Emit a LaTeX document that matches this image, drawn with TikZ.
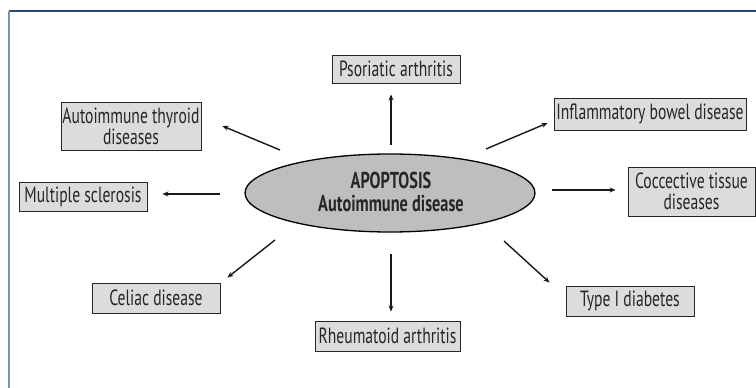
\documentclass[tikz,border=0pt]{standalone}
\usepackage{fontspec}
\setmainfont{PT Sans}[FakeStretch=0.71]
\usetikzlibrary{arrows.meta,calc,shapes.geometric}
\definecolor{boxfill}{RGB}{220,220,220}
\definecolor{ellfill}{RGB}{190,190,190}
\definecolor{frametop}{RGB}{40,70,120}
\definecolor{frameleft}{RGB}{125,145,180}
\tikzset{
  dbox/.style={draw=black!85, line width=0.9pt, fill=boxfill, inner sep=0pt,
    font=\fontsize{22}{21}\selectfont, align=center, text=black!85},
  arr/.style={line width=1.4pt, black!90, -{Stealth[length=6pt,width=5pt]}},
}
\begin{document}
\begin{tikzpicture}[x=1pt,y=-1pt]
\useasboundingbox (0,0) rectangle (756,388);
\fill[white] (0,0) rectangle (756,388);
% frame
\draw[frametop, line width=1.6pt] (9,11) -- (756,11);
\draw[frameleft, line width=2pt] (9,11) -- (9,388);
% centre
\node[draw=black, line width=1.3pt, fill=ellfill, ellipse, minimum width=290pt, minimum height=78pt, inner sep=0pt] (e) at (390,193) {};
\node[font=\bfseries\fontsize{23}{23}\selectfont, align=center, text=black!85] (et) at (391,192) {APOPTOSIS\\Autoimmune disease};
% boxes
\node[dbox, minimum width=128pt, minimum height=28pt] (pso) at (396,69) {Psoriatic arthritis};
\node[dbox, minimum width=140pt, minimum height=48pt] (thy) at (131,126) {Autoimmune thyroid\\diseases};
\node[dbox, minimum width=128pt, minimum height=29pt] (ms) at (83,196.5) {Multiple sclerosis};
\node[dbox, minimum width=128pt, minimum height=30pt] (cel) at (156,298) {Celiac disease};
\node[dbox, minimum width=145pt, minimum height=30pt] (rhe) at (387.5,336) {Rheumatoid arthritis};
\node[dbox, minimum width=128pt, minimum height=30pt] (t1d) at (630,301) {Type I diabetes};
\node[dbox, minimum width=192pt, minimum height=32pt] (ibd) at (650,114) {Inflammatory bowel disease};
\node[dbox, minimum width=127pt, minimum height=49pt] (cct) at (691.5,191.5) {Coccective tissue\\diseases};
% arrow starts
\coordinate (s1) at (391,145);
\coordinate (s2) at (280,150);
\coordinate (s3) at (220,194);
\coordinate (s4) at (275,240);
\coordinate (s5) at (391,254);
\coordinate (s6) at (504,241);
\coordinate (s7) at (486,149);
\coordinate (s8) at (552,190);
% arrows
\draw[arr] (s1) -- ($(pso.south)+(-5,11)$);
\draw[arr] (s2) -- ($(thy.east)+(21,0)$);
\draw[arr] (s3) -- ($(ms.east)+(15,-2.5)$);
\draw[arr] (s4) -- ($(cel.north east)+(7,-5)$);
\draw[arr] (s5) -- ($(rhe.north)+(3.5,-9)$);
\draw[arr] (s6) -- ($(t1d.north west)+(-16,-3)$);
\draw[arr] (s7) -- ($(ibd.west)+(-6,9)$);
\draw[arr] (s8) -- ($(cct.west)+(-12,-1.5)$);
\end{tikzpicture}
\end{document}
